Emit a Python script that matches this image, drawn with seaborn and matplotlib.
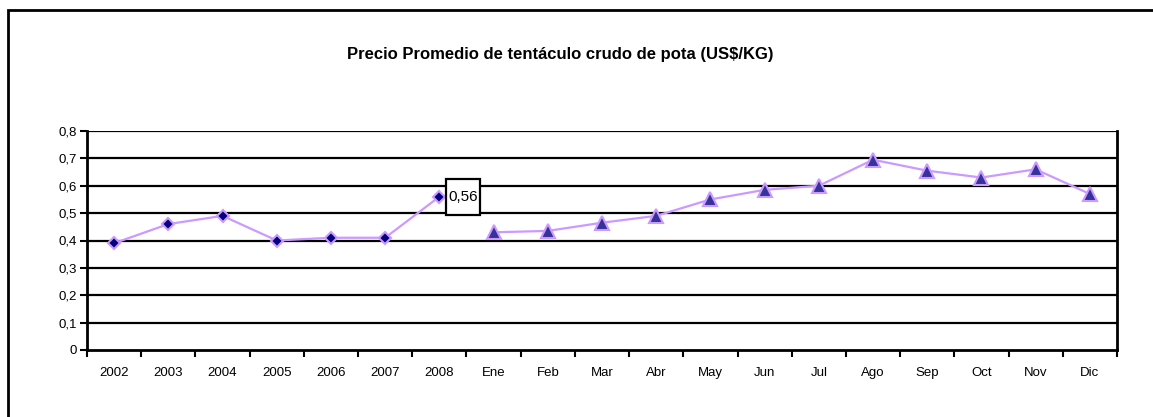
import matplotlib
matplotlib.use('Agg')
import matplotlib.pyplot as plt
import seaborn as sns
import pandas as pd
from matplotlib.patches import Rectangle
from matplotlib.ticker import FixedLocator, FuncFormatter

# data
years = ['2002', '2003', '2004', '2005', '2006', '2007', '2008']
year_price = [0.39, 0.46, 0.49, 0.40, 0.41, 0.41, 0.56]
months = ['Ene', 'Feb', 'Mar', 'Abr', 'May', 'Jun', 'Jul', 'Ago', 'Sep', 'Oct', 'Nov', 'Dic']
month_price = [0.43, 0.435, 0.465, 0.49, 0.55, 0.585, 0.60, 0.695, 0.655, 0.63, 0.66, 0.57]
title = 'Precio Promedio de tentáculo crudo de pota (US$/KG)'

labels = years + months
df_y = pd.DataFrame({'pos': range(len(years)), 'precio': year_price})
df_m = pd.DataFrame({'pos': range(len(years), len(labels)), 'precio': month_price})

sns.set_style('white')
plt.rcParams['font.family'] = ['Liberation Sans', 'DejaVu Sans']
plt.rcParams['text.color'] = 'black'
plt.rcParams['xtick.color'] = 'black'
plt.rcParams['ytick.color'] = 'black'
plt.rcParams['xtick.bottom'] = True
plt.rcParams['ytick.left'] = True

fig = plt.figure(figsize=(11.53, 4.17), dpi=100)
ax = fig.add_axes([87/1153, 1 - 350/417, 1030/1153, 219/417])

line_c = '#CC99FF'
sns.lineplot(data=df_y, x='pos', y='precio', ax=ax, color=line_c, linewidth=1.6,
             marker='D', markersize=6, markerfacecolor='#000080',
             markeredgecolor=line_c, markeredgewidth=1.5, zorder=3)
sns.lineplot(data=df_m, x='pos', y='precio', ax=ax, color=line_c, linewidth=1.6,
             marker='^', markersize=10, markerfacecolor='#333399',
             markeredgecolor=line_c, markeredgewidth=1.5, zorder=3)

ax.set_xlim(-0.5, len(labels) - 0.5)
ax.set_ylim(0, 0.8)
ax.set_xlabel('')
ax.set_ylabel('')

yt = [i / 10 for i in range(9)]
ax.set_yticks(yt)
ax.yaxis.set_major_formatter(FuncFormatter(lambda v, p: '0' if v == 0 else f'{v:.1f}'.replace('.', ',')))
for v in yt[1:]:
    ax.axhline(v, color='black', linewidth=1.6, zorder=1)

ax.set_xticks(range(len(labels)))
ax.set_xticklabels(labels)
ax.xaxis.set_minor_locator(FixedLocator([i - 0.5 for i in range(len(labels) + 1)]))
ax.tick_params(axis='x', which='major', bottom=True, length=0, pad=12, labelsize=9.5, labelcolor='black')
ax.tick_params(axis='x', which='minor', bottom=True, length=5, width=1.5, color='black', direction='out')
ax.tick_params(axis='y', left=True, length=5, width=1.5, color='black', direction='out',
               labelsize=9.5, pad=2, labelcolor='black')

for s in ['left', 'bottom', 'right']:
    ax.spines[s].set_color('black')
    ax.spines[s].set_linewidth(2)
ax.spines['top'].set_visible(False)

# data label on 2008
p08 = year_price[6]
ax.add_patch(Rectangle((6.13, p08 - 0.066), 0.62, 0.132, fill=True, fc='white', ec='black',
                       lw=1.6, zorder=4))
ax.text(6.44, p08, f'{p08:.2f}'.replace('.', ','), ha='center', va='center', fontsize=11, zorder=5)

fig.text(0.486, 1 - 55/417, title, ha='center', va='center', fontsize=12, fontweight='bold')

# outer chart border
fig.patches.append(Rectangle((8/1153, -0.1), 1.2, 1 - 10/417 + 0.1, transform=fig.transFigure,
                             fill=False, ec='black', lw=2))

fig.savefig('out.png', dpi=100)
